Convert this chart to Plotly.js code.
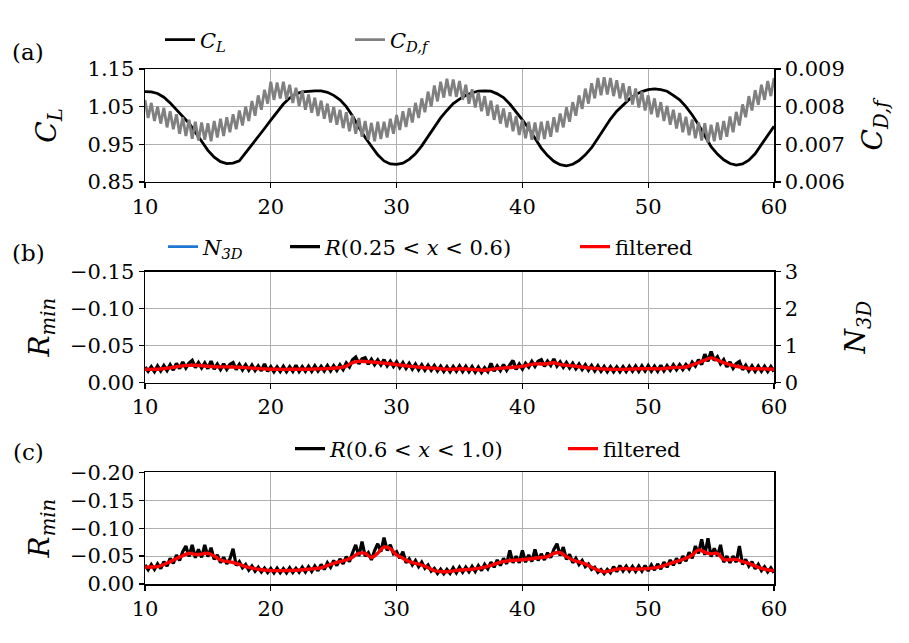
<!DOCTYPE html>
<html>
<head>
<meta charset="utf-8">
<script src="https://cdn.plot.ly/plotly-3.0.1.min.js"></script>
<style>html,body{margin:0;padding:0;background:#fff;}#chart{width:909px;height:643px;}</style>
</head>
<body>
<div id="chart"></div>
<script>
// ---------- DATA ----------
// sample spacing of the series
const tStartCoarse = 10, tStepCoarse = 0.5;   // CL and filtered series
const tStartFine = 10, tStepFine = 0.25;      // CDf and raw R series

const CL = [1.090,1.089,1.085,1.075,1.060,1.043,1.024,1.006,0.983,0.958,
0.934,0.916,0.904,0.899,0.900,0.906,0.927,0.947,0.970,0.992,
1.014,1.037,1.057,1.073,1.084,1.089,1.091,1.092,1.092,1.088,
1.080,1.068,1.050,1.025,0.995,0.968,0.945,0.922,0.906,0.898,
0.897,0.900,0.910,0.925,0.946,0.970,0.996,1.020,1.040,1.058,
1.070,1.080,1.087,1.091,1.092,1.091,1.084,1.074,1.057,1.037,
1.015,0.992,0.965,0.940,0.920,0.905,0.896,0.893,0.897,0.907,
0.922,0.941,0.966,0.993,1.017,1.038,1.055,1.070,1.082,1.090,
1.095,1.097,1.095,1.091,1.080,1.068,1.050,1.028,1.002,0.973,
0.944,0.924,0.909,0.899,0.895,0.898,0.908,0.925,0.950,0.975,
0.998];

const CDf = [0.00818,0.00770,0.00810,0.00762,0.00800,0.00755,0.00797,0.00745,
0.00788,0.00740,0.00780,0.00728,0.00772,0.00722,0.00765,0.00715,
0.00760,0.00710,0.00758,0.00712,0.00756,0.00708,0.00762,0.00718,
0.00768,0.00722,0.00772,0.00732,0.00780,0.00740,0.00790,0.00750,
0.00800,0.00762,0.00815,0.00776,0.00830,0.00792,0.00845,0.00808,
0.00866,0.00818,0.00864,0.00822,0.00866,0.00820,0.00858,0.00810,
0.00850,0.00802,0.00842,0.00792,0.00832,0.00784,0.00824,0.00775,
0.00816,0.00768,0.00808,0.00758,0.00800,0.00752,0.00792,0.00743,
0.00785,0.00735,0.00778,0.00728,0.00770,0.00720,0.00762,0.00712,
0.00757,0.00708,0.00760,0.00714,0.00760,0.00718,0.00768,0.00728,
0.00778,0.00738,0.00788,0.00746,0.00796,0.00758,0.00810,0.00770,
0.00822,0.00785,0.00840,0.00800,0.00856,0.00814,0.00866,0.00824,
0.00874,0.00828,0.00872,0.00826,0.00868,0.00818,0.00858,0.00808,
0.00846,0.00798,0.00838,0.00788,0.00828,0.00776,0.00816,0.00765,
0.00805,0.00755,0.00795,0.00745,0.00785,0.00735,0.00775,0.00725,
0.00765,0.00716,0.00760,0.00712,0.00758,0.00710,0.00760,0.00714,
0.00762,0.00720,0.00772,0.00732,0.00782,0.00745,0.00798,0.00760,
0.00812,0.00776,0.00830,0.00794,0.00848,0.00808,0.00862,0.00822,
0.00876,0.00830,0.00878,0.00832,0.00876,0.00828,0.00870,0.00822,
0.00862,0.00814,0.00854,0.00806,0.00848,0.00798,0.00840,0.00790,
0.00830,0.00780,0.00822,0.00772,0.00812,0.00762,0.00802,0.00752,
0.00792,0.00742,0.00783,0.00732,0.00773,0.00724,0.00766,0.00716,
0.00758,0.00710,0.00756,0.00705,0.00752,0.00708,0.00758,0.00712,
0.00762,0.00720,0.00774,0.00732,0.00786,0.00750,0.00806,0.00772,
0.00828,0.00790,0.00844,0.00805,0.00858,0.00818,0.00868,0.00828,
0.00876];

const N3D = [null];  // listed in the legend, no visible samples in the reference

const Rb = [-0.0210,-0.0155,-0.0215,-0.0150,-0.0225,-0.0160,-0.0230,-0.0165,
-0.0240,-0.0170,-0.0260,-0.0190,-0.0280,-0.0200,-0.0265,-0.0300,
-0.0205,-0.0270,-0.0200,-0.0265,-0.0190,-0.0290,-0.0185,-0.0250,
-0.0180,-0.0255,-0.0182,-0.0245,-0.0270,-0.0178,-0.0245,-0.0175,
-0.0240,-0.0170,-0.0235,-0.0165,-0.0225,-0.0160,-0.0255,-0.0155,
-0.0215,-0.0150,-0.0212,-0.0152,-0.0220,-0.0150,-0.0215,-0.0155,
-0.0235,-0.0152,-0.0215,-0.0155,-0.0220,-0.0155,-0.0225,-0.0158,
-0.0220,-0.0160,-0.0230,-0.0162,-0.0228,-0.0168,-0.0240,-0.0180,
-0.0265,-0.0215,-0.0310,-0.0345,-0.0255,-0.0320,-0.0335,-0.0250,
-0.0315,-0.0245,-0.0305,-0.0240,-0.0310,-0.0230,-0.0290,-0.0220,
-0.0280,-0.0205,-0.0270,-0.0195,-0.0260,-0.0185,-0.0250,-0.0175,
-0.0240,-0.0170,-0.0235,-0.0168,-0.0230,-0.0160,-0.0222,-0.0152,
-0.0215,-0.0150,-0.0218,-0.0155,-0.0225,-0.0152,-0.0220,-0.0150,
-0.0215,-0.0145,-0.0210,-0.0140,-0.0200,-0.0150,-0.0260,-0.0155,
-0.0225,-0.0165,-0.0245,-0.0170,-0.0240,-0.0300,-0.0180,-0.0250,
-0.0185,-0.0260,-0.0210,-0.0285,-0.0220,-0.0290,-0.0310,-0.0222,
-0.0290,-0.0235,-0.0320,-0.0225,-0.0280,-0.0210,-0.0270,-0.0200,
-0.0260,-0.0190,-0.0250,-0.0180,-0.0240,-0.0170,-0.0230,-0.0160,
-0.0225,-0.0155,-0.0218,-0.0150,-0.0215,-0.0150,-0.0212,-0.0150,
-0.0215,-0.0152,-0.0220,-0.0155,-0.0222,-0.0155,-0.0225,-0.0160,
-0.0228,-0.0158,-0.0222,-0.0155,-0.0235,-0.0162,-0.0228,-0.0170,
-0.0240,-0.0175,-0.0242,-0.0180,-0.0245,-0.0190,-0.0275,-0.0225,
-0.0310,-0.0245,-0.0385,-0.0290,-0.0420,-0.0300,-0.0350,-0.0255,
-0.0310,-0.0215,-0.0280,-0.0195,-0.0255,-0.0285,-0.0175,-0.0235,
-0.0160,-0.0225,-0.0155,-0.0222,-0.0155,-0.0220,-0.0152,-0.0218,
-0.0150];

const RbFilt = [-0.0182,-0.0180,-0.0182,-0.0190,-0.0200,-0.0215,-0.0227,-0.0234,-0.0236,-0.0230,
-0.0222,-0.0216,-0.0214,-0.0213,-0.0212,-0.0208,-0.0204,-0.0197,-0.0190,-0.0186,
-0.0182,-0.0181,-0.0180,-0.0181,-0.0182,-0.0182,-0.0182,-0.0185,-0.0187,-0.0190,
-0.0196,-0.0203,-0.0225,-0.0272,-0.0288,-0.0286,-0.0280,-0.0272,-0.0264,-0.0255,
-0.0245,-0.0233,-0.0223,-0.0213,-0.0205,-0.0200,-0.0196,-0.0188,-0.0182,-0.0183,
-0.0188,-0.0185,-0.0180,-0.0174,-0.0169,-0.0180,-0.0190,-0.0198,-0.0205,-0.0212,
-0.0220,-0.0240,-0.0254,-0.0253,-0.0256,-0.0270,-0.0245,-0.0236,-0.0227,-0.0216,
-0.0205,-0.0197,-0.0190,-0.0185,-0.0181,-0.0180,-0.0180,-0.0184,-0.0187,-0.0189,
-0.0190,-0.0189,-0.0187,-0.0195,-0.0205,-0.0207,-0.0212,-0.0240,-0.0270,-0.0305,
-0.0335,-0.0305,-0.0270,-0.0245,-0.0222,-0.0205,-0.0192,-0.0188,-0.0187,-0.0185,
-0.0182];

const Rc = [-0.0340,-0.0255,-0.0350,-0.0260,-0.0360,-0.0275,-0.0400,-0.0320,
-0.0460,-0.0370,-0.0520,-0.0420,-0.0580,-0.0680,-0.0490,-0.0700,
-0.0470,-0.0620,-0.0475,-0.0700,-0.0490,-0.0650,-0.0440,-0.0520,
-0.0380,-0.0480,-0.0360,-0.0450,-0.0630,-0.0330,-0.0400,-0.0290,
-0.0350,-0.0250,-0.0320,-0.0230,-0.0300,-0.0215,-0.0285,-0.0205,
-0.0280,-0.0200,-0.0285,-0.0200,-0.0275,-0.0200,-0.0290,-0.0205,
-0.0280,-0.0210,-0.0300,-0.0215,-0.0310,-0.0225,-0.0320,-0.0235,
-0.0350,-0.0260,-0.0380,-0.0300,-0.0420,-0.0330,-0.0450,-0.0360,
-0.0490,-0.0400,-0.0560,-0.0700,-0.0500,-0.0760,-0.0500,-0.0560,
-0.0430,-0.0600,-0.0720,-0.0580,-0.0830,-0.0600,-0.0700,-0.0540,
-0.0580,-0.0460,-0.0580,-0.0380,-0.0450,-0.0340,-0.0420,-0.0310,
-0.0390,-0.0280,-0.0340,-0.0230,-0.0280,-0.0190,-0.0265,-0.0185,
-0.0260,-0.0190,-0.0290,-0.0200,-0.0300,-0.0210,-0.0300,-0.0220,
-0.0315,-0.0225,-0.0330,-0.0240,-0.0350,-0.0270,-0.0390,-0.0300,
-0.0430,-0.0330,-0.0460,-0.0360,-0.0600,-0.0380,-0.0500,-0.0380,
-0.0600,-0.0390,-0.0520,-0.0400,-0.0620,-0.0420,-0.0540,-0.0430,
-0.0560,-0.0470,-0.0620,-0.0720,-0.0510,-0.0660,-0.0440,-0.0530,
-0.0380,-0.0460,-0.0350,-0.0420,-0.0310,-0.0360,-0.0260,-0.0300,
-0.0210,-0.0260,-0.0185,-0.0260,-0.0200,-0.0310,-0.0220,-0.0330,
-0.0235,-0.0320,-0.0230,-0.0315,-0.0225,-0.0320,-0.0230,-0.0330,
-0.0235,-0.0340,-0.0250,-0.0360,-0.0265,-0.0390,-0.0300,-0.0430,
-0.0335,-0.0460,-0.0370,-0.0500,-0.0410,-0.0570,-0.0460,-0.0680,
-0.0550,-0.0800,-0.0520,-0.0820,-0.0490,-0.0640,-0.0500,-0.0700,
-0.0390,-0.0500,-0.0380,-0.0500,-0.0390,-0.0680,-0.0350,-0.0440,
-0.0320,-0.0400,-0.0270,-0.0350,-0.0240,-0.0310,-0.0215,-0.0290,
-0.0200];

const RcFilt = [-0.0300,-0.0305,-0.0310,-0.0350,-0.0400,-0.0455,-0.0505,-0.0550,-0.0530,-0.0535,
-0.0550,-0.0500,-0.0430,-0.0405,-0.0385,-0.0350,-0.0310,-0.0285,-0.0265,-0.0250,
-0.0240,-0.0240,-0.0240,-0.0242,-0.0245,-0.0255,-0.0265,-0.0275,-0.0290,-0.0330,
-0.0370,-0.0400,-0.0430,-0.0480,-0.0550,-0.0550,-0.0475,-0.0550,-0.0660,-0.0630,
-0.0520,-0.0460,-0.0400,-0.0370,-0.0340,-0.0290,-0.0240,-0.0225,-0.0220,-0.0235,
-0.0250,-0.0258,-0.0265,-0.0280,-0.0300,-0.0335,-0.0370,-0.0400,-0.0420,-0.0428,
-0.0435,-0.0448,-0.0460,-0.0475,-0.0490,-0.0550,-0.0560,-0.0490,-0.0430,-0.0395,
-0.0360,-0.0300,-0.0250,-0.0218,-0.0240,-0.0265,-0.0275,-0.0270,-0.0265,-0.0270,
-0.0275,-0.0290,-0.0310,-0.0350,-0.0385,-0.0420,-0.0460,-0.0520,-0.0610,-0.0570,
-0.0540,-0.0550,-0.0440,-0.0435,-0.0440,-0.0400,-0.0370,-0.0320,-0.0280,-0.0255,
-0.0240];

// axis tick values
const xTicks = [10, 20, 30, 40, 50, 60];
const yTicksA = [0.85, 0.95, 1.05, 1.15];
const yTicksA2 = [0.006, 0.007, 0.008, 0.009];
const yTicksB = [0.00, -0.05, -0.10, -0.15];
const yTicksB2 = [0, 1, 2, 3];
const yTicksC = [0.00, -0.05, -0.10, -0.15, -0.20];

// legend labels
const labels = {
  CL: '<i>C<sub>L</sub></i>',
  CDf: '<i>C<sub>D,f</sub></i>',
  N3D: '<i>N<sub>3D</sub></i>',
  Rb: '<i>R</i>(0.25 &lt; <i>x</i> &lt; 0.6)',
  Rc: '<i>R</i>(0.6 &lt; <i>x</i> &lt; 1.0)',
  filt: 'filtered'
};

// ---------- build ----------
const times = (n, t0, dt) => Array.from({length: n}, (_, i) => t0 + dt * i);
const tCL = times(CL.length, tStartCoarse, tStepCoarse);
const tCD = times(CDf.length, tStartFine, tStepFine);
const tN = times(N3D.length, tStartFine, tStepFine);
const tRb = times(Rb.length, tStartFine, tStepFine);
const tRbF = times(RbFilt.length, tStartCoarse, tStepCoarse);
const tRc = times(Rc.length, tStartFine, tStepFine);
const tRcF = times(RcFilt.length, tStartCoarse, tStepCoarse);

const FONT = 'DejaVu Serif';
const tickFont = {family: FONT, size: 21, color: '#000'};
const titleFont = {family: FONT, size: 28, color: '#000'};

const traces = [
  {x: tCL, y: CL, xaxis: 'x', yaxis: 'y', mode: 'lines', name: labels.CL,
   line: {color: '#000', width: 2.8}, legend: 'legend'},
  {x: tCD, y: CDf, xaxis: 'x', yaxis: 'y2', mode: 'lines', name: labels.CDf,
   line: {color: '#808080', width: 2.8}, legend: 'legend2'},
  {x: tN, y: N3D, xaxis: 'x2', yaxis: 'y4', mode: 'lines', name: labels.N3D,
   line: {color: '#1f77d4', width: 2.8}, legend: 'legend3', showlegend: true},
  {x: tRb, y: Rb, xaxis: 'x2', yaxis: 'y3', mode: 'lines', name: labels.Rb,
   line: {color: '#000', width: 3.4}, legend: 'legend4'},
  {x: tRbF, y: RbFilt, xaxis: 'x2', yaxis: 'y3', mode: 'lines', name: labels.filt,
   line: {color: '#ff0000', width: 3.4, shape: 'spline'}, legend: 'legend5'},
  {x: tRc, y: Rc, xaxis: 'x3', yaxis: 'y5', mode: 'lines', name: labels.Rc,
   line: {color: '#000', width: 3.2}, legend: 'legend6'},
  {x: tRcF, y: RcFilt, xaxis: 'x3', yaxis: 'y5', mode: 'lines', name: labels.filt,
   line: {color: '#ff0000', width: 3.4, shape: 'spline'}, legend: 'legend7'}
];

const baseAx = {
  showline: true, linecolor: '#000', linewidth: 1.5,
  ticks: 'outside', ticklen: 5, tickwidth: 1.2, tickcolor: '#000',
  tickfont: tickFont, zeroline: false, gridcolor: '#b0b0b0', gridwidth: 1,
  fixedrange: true
};
const xAx = (anchor) => Object.assign({}, baseAx, {
  anchor: anchor, domain: [0, 1], range: [10, 60], tickmode: 'array', tickvals: xTicks,
  showgrid: true, mirror: true
});
const leg = (xpx, ypx) => ({
  x: (xpx - 145) / 629, y: 1 - (ypx - 69) / 515, xanchor: 'left', yanchor: 'middle',
  orientation: 'h', bgcolor: 'rgba(0,0,0,0)', borderwidth: 0,
  font: {family: FONT, size: 21, color: '#000'}
});

const layout = {
  width: 909, height: 643,
  margin: {l: 145, r: 135, t: 69, b: 59},
  paper_bgcolor: '#fff', plot_bgcolor: '#fff',
  showlegend: true,
  xaxis: xAx('y'),
  yaxis: Object.assign({}, baseAx, {
    domain: [0.7806, 1], anchor: 'x', range: [0.85, 1.15], tickmode: 'array',
    tickvals: yTicksA, tickformat: '.2f', showgrid: true,
    title: {text: '<i>C<sub>L</sub></i>', font: titleFont, standoff: 22}
  }),
  yaxis2: Object.assign({}, baseAx, {
    overlaying: 'y', side: 'right', anchor: 'x', range: [0.006, 0.009], tickmode: 'array',
    tickvals: yTicksA2, tickformat: '.3f', showgrid: false,
    title: {text: '<i>C<sub>D,f</sub></i>', font: titleFont, standoff: 18}
  }),
  xaxis2: xAx('y3'),
  yaxis3: Object.assign({}, baseAx, {
    domain: [0.3909, 0.6064], anchor: 'x2', range: [0, -0.15], tickmode: 'array',
    tickvals: yTicksB, tickformat: '.2f', showgrid: true,
    title: {text: '<i>R<sub>min</sub></i>', font: titleFont, standoff: 12}
  }),
  yaxis4: Object.assign({}, baseAx, {
    overlaying: 'y3', side: 'right', anchor: 'x2', range: [0, 3], tickmode: 'array',
    tickvals: yTicksB2, tickformat: 'd', showgrid: false,
    title: {text: '<i>N<sub>3D</sub></i>', font: titleFont, standoff: 48}
  }),
  xaxis3: xAx('y5'),
  yaxis5: Object.assign({}, baseAx, {
    domain: [0, 0.2169], anchor: 'x3', range: [0, -0.2], tickmode: 'array',
    tickvals: yTicksC, tickformat: '.2f', showgrid: true, mirror: true,
    title: {text: '<i>R<sub>min</sub></i>', font: titleFont, standoff: 12}
  }),
  legend: leg(160, 40),
  legend2: leg(350, 40),
  legend3: leg(163, 247),
  legend4: leg(285, 247),
  legend5: leg(575, 247),
  legend6: leg(290, 449),
  legend7: leg(563, 449),
  annotations: [
    {text: '(a)', x: 28, y: 52},
    {text: '(b)', x: 28, y: 253},
    {text: '(c)', x: 28, y: 452}
  ].map(a => ({
    text: a.text, xref: 'paper', yref: 'paper', x: (a.x - 145) / 629, y: 1 - (a.y - 69) / 515,
    xanchor: 'center', yanchor: 'middle', showarrow: false,
    font: {family: FONT, size: 23, color: '#000'}
  }))
};

Plotly.newPlot('chart', traces, layout, {displayModeBar: false, staticPlot: true});
</script>
</body>
</html>
